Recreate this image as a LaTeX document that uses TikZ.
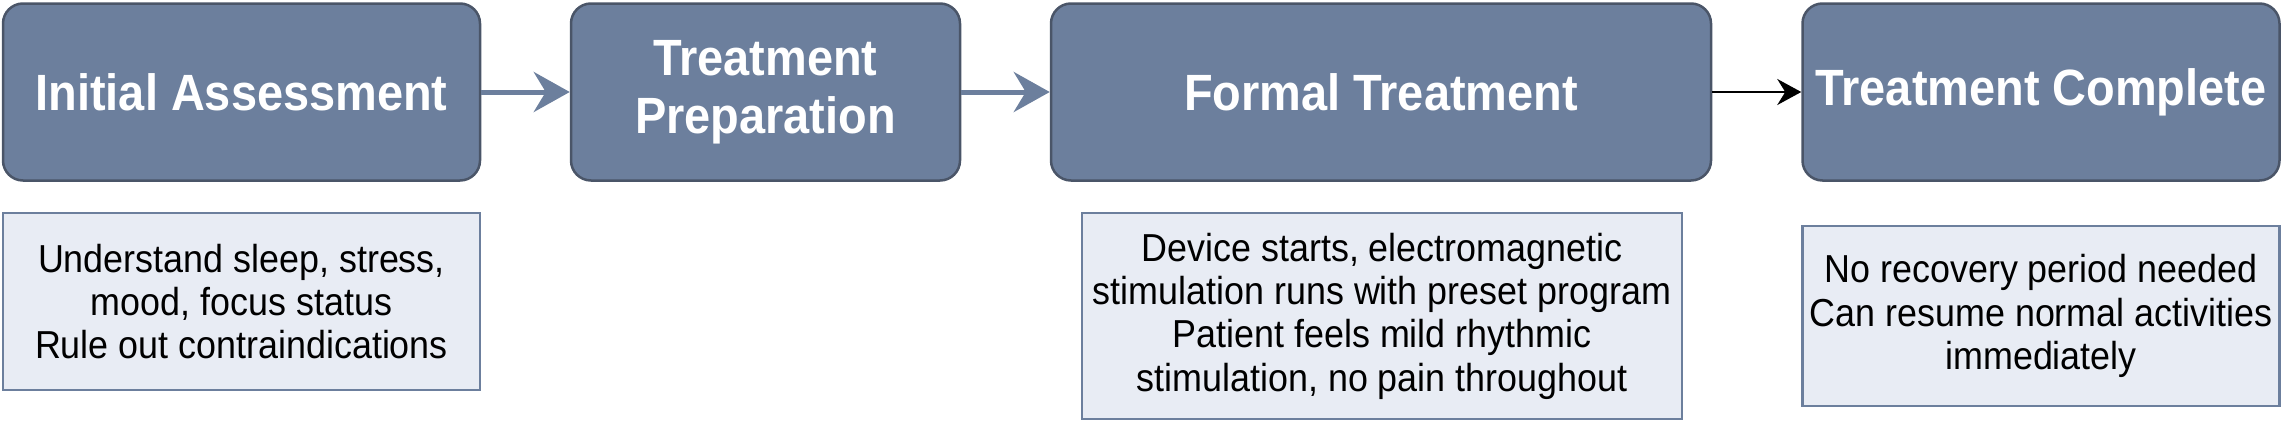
\documentclass[tikz,border=0pt]{standalone}
\usepackage{fontspec}
\setmainfont[FakeStretch=0.92]{Liberation Sans}
\usetikzlibrary{arrows.meta}
\definecolor{boxfill}{HTML}{6C7F9D}
\definecolor{boxline}{HTML}{4A5568}
\definecolor{notefill}{HTML}{E8ECF4}
\definecolor{noteline}{HTML}{6C7F9D}
\begin{document}
\begin{tikzpicture}[x=1pt,y=-1pt,
  stage/.style={rectangle, rounded corners=20pt, draw=boxline, line width=2.5pt, fill=boxfill, text=white,
    font=\fontsize{51}{58}\selectfont\bfseries, align=center, inner sep=0pt, minimum height=177pt},
  note/.style={rectangle, draw=noteline, line width=2.5pt, fill=notefill, text=black,
    font=\fontsize{39}{43.3}\selectfont, align=center, inner sep=0pt},
  flowarrow/.style={draw=boxfill, line width=5pt, -{Stealth[length=36pt, width=40pt, inset=12pt]}},
  plainarrow/.style={draw=black, line width=2.5pt, -{Stealth[length=24pt, width=26pt, inset=8pt]}}]
\useasboundingbox (0,0) rectangle (2283,423);
\node[stage, minimum width=477pt] (b1) at (241.5,92) {Initial Assessment};
\node[stage, minimum width=389pt] (b2) at (765.5,92) {Treatment\\Preparation};
\node[stage, minimum width=660pt] (b3) at (1381,92) {Formal Treatment};
\node[stage, minimum width=477pt] (b4) at (2041,92) {Treatment Complete};
\node[note, minimum width=477pt, minimum height=177pt] (n1) at (241.5,301.5)
  {Understand sleep, stress,\\mood, focus status\\Rule out contraindications};
\node[note, minimum width=600pt, minimum height=206pt] (n3) at (1382,316)
  {Device starts, electromagnetic\\stimulation runs with preset program\\Patient feels mild rhythmic\\stimulation, no pain throughout};
\node[note, minimum width=477pt, minimum height=180pt] (n4) at (2041,316)
  {No recovery period needed\\Can resume normal activities\\immediately};
\draw[flowarrow] (b1.east) -- (b2.west);
\draw[flowarrow] (b2.east) -- (b3.west);
\draw[plainarrow] (b3.east) -- (b4.west);
\end{tikzpicture}
\end{document}
